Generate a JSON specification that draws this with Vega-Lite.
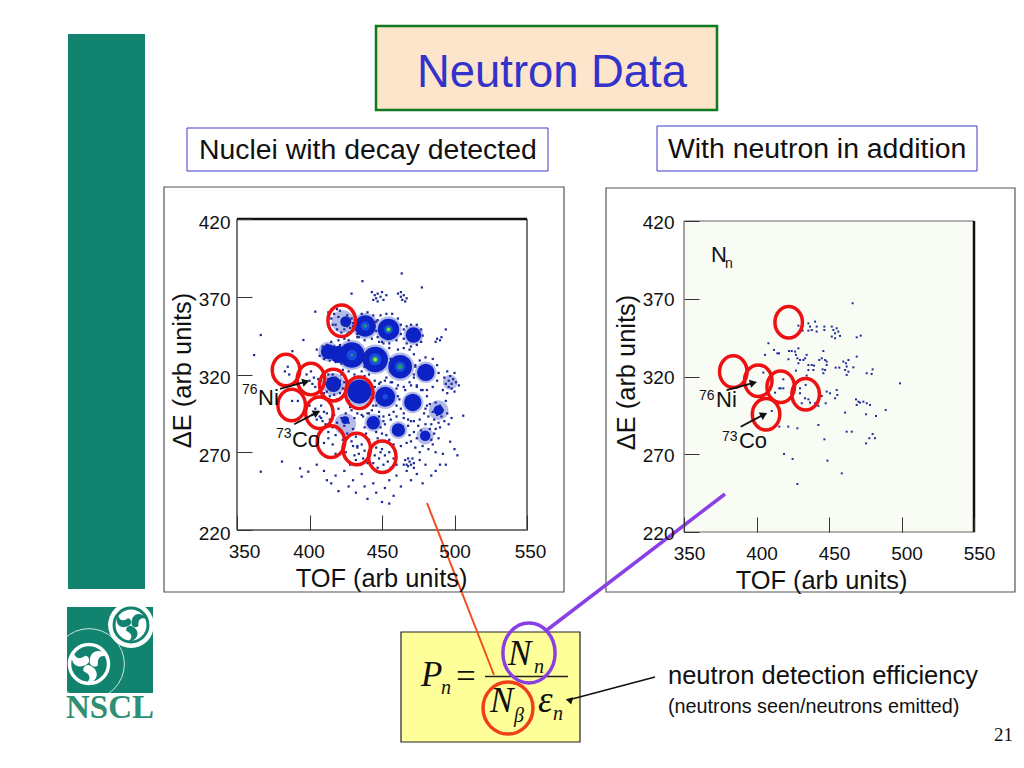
{"$schema":"https://vega.github.io/schema/vega-lite/v6.json","width":1024,"height":768,"padding":0,"autosize":{"type":"none"},"background":"white","config":{"view":{"stroke":null},"text":{"font":"Liberation Sans","align":"left","baseline":"alphabetic","color":"#111"},"axis":{"labelFont":"Liberation Sans","titleFont":"Liberation Sans","labelColor":"#111","titleColor":"#111","titleFontWeight":"normal","grid":false,"domain":false,"tickColor":"#333","labelFontSize":19,"titleFontSize":25.4}},
"datasets":{
"leftDots":[{"tof":443,"de":373},{"tof":445,"de":371},{"tof":446,"de":369},{"tof":447,"de":372},{"tof":449,"de":370},{"tof":450,"de":373},{"tof":451,"de":368},{"tof":453,"de":371},{"tof":447,"de":367},{"tof":444,"de":368},{"tof":461,"de":372},{"tof":463,"de":370},{"tof":464,"de":368},{"tof":466,"de":367},{"tof":463,"de":373},{"tof":465,"de":371},{"tof":467,"de":369},{"tof":463.6,"de":385},{"tof":436.5,"de":380},{"tof":477.5,"de":376},{"tof":429,"de":372},{"tof":404,"de":360.4},{"tof":366.4,"de":345.4},{"tof":361.8,"de":332.5},{"tof":388.2,"de":335},{"tof":395.8,"de":342.2},{"tof":494,"de":349},{"tof":488,"de":343},{"tof":490,"de":342},{"tof":491,"de":344},{"tof":487,"de":341},{"tof":381,"de":264},{"tof":366.4,"de":257.5},{"tof":393.5,"de":259.6},{"tof":399.2,"de":257.5},{"tof":394.6,"de":254.3},{"tof":506,"de":293.5},{"tof":497,"de":276.8},
{"tof":430,"de":353},{"tof":431,"de":349},{"tof":432,"de":356},{"tof":433,"de":346},{"tof":436,"de":359},{"tof":440,"de":360},{"tof":444,"de":358},{"tof":446,"de":354},{"tof":446,"de":348},{"tof":443,"de":343},{"tof":438,"de":342},{"tof":434,"de":344},
{"tof":447,"de":355},{"tof":449,"de":358},{"tof":453,"de":359},{"tof":457,"de":359},{"tof":461,"de":356},{"tof":463,"de":352},{"tof":463,"de":346},{"tof":460,"de":342},{"tof":455,"de":340},{"tof":450,"de":341},{"tof":447,"de":344},
{"tof":465,"de":349},{"tof":467,"de":351},{"tof":470,"de":352},{"tof":474,"de":352},{"tof":477,"de":349},{"tof":478,"de":345},{"tof":477,"de":341},{"tof":474,"de":339},{"tof":470,"de":338},{"tof":467,"de":340},{"tof":465,"de":343},
{"tof":415,"de":356},{"tof":417,"de":359},{"tof":418,"de":352},{"tof":419,"de":349},{"tof":420,"de":357},{"tof":421,"de":361},{"tof":422,"de":347},{"tof":423,"de":352},{"tof":424,"de":349},{"tof":424,"de":356},{"tof":426,"de":351},{"tof":426,"de":358},{"tof":427,"de":347},{"tof":428,"de":354},{"tof":428,"de":350},{"tof":429,"de":356},{"tof":430,"de":351},{"tof":416,"de":352},{"tof":413,"de":360},{"tof":419,"de":362},{"tof":426,"de":346},
{"tof":405,"de":336},{"tof":407,"de":332},{"tof":409,"de":338},{"tof":410,"de":330},{"tof":411,"de":334},{"tof":412,"de":339},{"tof":414,"de":329},{"tof":415,"de":341},{"tof":417,"de":338},{"tof":418,"de":328},{"tof":420,"de":342},{"tof":422,"de":327},{"tof":424,"de":343},{"tof":427,"de":342},{"tof":433,"de":344},
{"tof":421,"de":339},{"tof":423,"de":323},{"tof":427,"de":322},{"tof":431,"de":320},{"tof":436,"de":322},{"tof":438,"de":325},{"tof":439,"de":331},{"tof":441,"de":320},{"tof":445,"de":316},{"tof":449,"de":315},{"tof":453,"de":318},{"tof":456,"de":322},{"tof":456,"de":330},{"tof":455,"de":337},{"tof":451,"de":340},{"tof":448,"de":341},
{"tof":457,"de":315},{"tof":461,"de":313},{"tof":465,"de":312},{"tof":469,"de":315},{"tof":472,"de":320},{"tof":473,"de":326},{"tof":472,"de":333},{"tof":469,"de":336},{"tof":465,"de":337},{"tof":461,"de":336},
{"tof":472,"de":318},{"tof":474,"de":313},{"tof":477,"de":310},{"tof":481,"de":310},{"tof":485,"de":312},{"tof":488,"de":316},{"tof":489,"de":321},{"tof":488,"de":326},{"tof":485,"de":330},{"tof":480,"de":331},{"tof":476,"de":329},{"tof":473,"de":325},
{"tof":492,"de":310},{"tof":493,"de":318},{"tof":494,"de":314},{"tof":495,"de":322},{"tof":495,"de":308},{"tof":496,"de":316},{"tof":496,"de":312},{"tof":497,"de":319},{"tof":498,"de":311},{"tof":498,"de":314},{"tof":499,"de":317},{"tof":500,"de":309},{"tof":500,"de":321},{"tof":501,"de":315},{"tof":503,"de":313},
{"tof":408,"de":316},{"tof":409,"de":311},{"tof":410,"de":319},{"tof":410,"de":308},{"tof":411,"de":314},{"tof":412,"de":309},{"tof":413,"de":317},{"tof":413,"de":320},{"tof":414,"de":306},{"tof":415,"de":312},{"tof":416,"de":320},{"tof":417,"de":307},{"tof":418,"de":318},{"tof":418,"de":310},{"tof":419,"de":304},{"tof":420,"de":312},{"tof":421,"de":316},{"tof":421,"de":308},{"tof":422,"de":320},{"tof":423,"de":311},{"tof":424,"de":315},{"tof":424,"de":306},
{"tof":426,"de":316},{"tof":427,"de":303},{"tof":428,"de":310},{"tof":429,"de":297},{"tof":431,"de":318},{"tof":433,"de":295},{"tof":436,"de":294},{"tof":438,"de":319},{"tof":441,"de":316},{"tof":442,"de":312},{"tof":444,"de":305},{"tof":444,"de":300},{"tof":441,"de":295},
{"tof":444,"de":308},{"tof":445,"de":312},{"tof":446,"de":300},{"tof":448,"de":296},{"tof":451,"de":293},{"tof":455,"de":294},{"tof":458,"de":296},{"tof":460,"de":300},{"tof":461,"de":306},{"tof":460,"de":311},{"tof":456,"de":315},{"tof":452,"de":316},{"tof":448,"de":314},
{"tof":462,"de":304},{"tof":463,"de":298},{"tof":465,"de":295},{"tof":468,"de":291},{"tof":472,"de":290},{"tof":476,"de":291},{"tof":479,"de":295},{"tof":481,"de":300},{"tof":481,"de":306},{"tof":478,"de":310},{"tof":474,"de":312},{"tof":470,"de":313},{"tof":466,"de":310},
{"tof":480,"de":298},{"tof":482,"de":293},{"tof":483,"de":301},{"tof":484,"de":288},{"tof":485,"de":296},{"tof":486,"de":291},{"tof":487,"de":302},{"tof":487,"de":285},{"tof":488,"de":294},{"tof":489,"de":289},{"tof":490,"de":300},{"tof":490,"de":286},{"tof":491,"de":293},{"tof":492,"de":297},{"tof":493,"de":290},{"tof":494,"de":303},{"tof":495,"de":295},{"tof":496,"de":288},{"tof":498,"de":292},
{"tof":408,"de":292},{"tof":409,"de":285},{"tof":411,"de":288},{"tof":412,"de":295},{"tof":413,"de":283},{"tof":414,"de":291},{"tof":416,"de":286},{"tof":417,"de":294},{"tof":418,"de":281},{"tof":419,"de":289},{"tof":420,"de":298},{"tof":421,"de":284},{"tof":422,"de":292},{"tof":423,"de":278},{"tof":424,"de":287},{"tof":425,"de":295},{"tof":426,"de":282},{"tof":427,"de":289},{"tof":428,"de":299},{"tof":429,"de":277},{"tof":430,"de":285},{"tof":431,"de":292},{"tof":432,"de":280},{"tof":433,"de":274},
{"tof":437,"de":293},{"tof":438,"de":286},{"tof":439,"de":282},{"tof":440,"de":295},{"tof":441,"de":278},{"tof":443,"de":297},{"tof":445,"de":276},{"tof":446,"de":283},{"tof":447,"de":279},{"tof":448,"de":293},{"tof":449,"de":286},{"tof":450,"de":282},{"tof":451,"de":290},
{"tof":452,"de":288},{"tof":453,"de":281},{"tof":455,"de":278},{"tof":456,"de":291},{"tof":458,"de":275},{"tof":460,"de":293},{"tof":463,"de":274},{"tof":465,"de":292},{"tof":467,"de":276},{"tof":468,"de":287},{"tof":469,"de":281},{"tof":470,"de":290},
{"tof":470,"de":277},{"tof":472,"de":283},{"tof":473,"de":273},{"tof":474,"de":279},{"tof":475,"de":287},{"tof":476,"de":270},{"tof":477,"de":284},{"tof":478,"de":274},{"tof":480,"de":288},{"tof":482,"de":272},{"tof":483,"de":285},{"tof":484,"de":278},{"tof":485,"de":275},{"tof":486,"de":282},{"tof":487,"de":270},{"tof":489,"de":279},{"tof":492,"de":269},
{"tof":500,"de":272},{"tof":502,"de":268},{"tof":494,"de":262},{"tof":490,"de":262},
{"tof":425,"de":270},{"tof":428,"de":262},{"tof":430,"de":274},{"tof":431,"de":268},{"tof":432,"de":265},{"tof":433,"de":273},{"tof":434,"de":269},{"tof":436,"de":275},{"tof":437,"de":266},{"tof":438,"de":271},{"tof":440,"de":263},
{"tof":444,"de":263},{"tof":445,"de":268},{"tof":446,"de":273},{"tof":447,"de":260},{"tof":448,"de":266},{"tof":449,"de":270},{"tof":450,"de":272},{"tof":451,"de":262},{"tof":452,"de":268},{"tof":453,"de":258},{"tof":454,"de":264},{"tof":455,"de":270},{"tof":456,"de":260},{"tof":458,"de":266},{"tof":460,"de":262},
{"tof":410,"de":276},{"tof":413,"de":279},{"tof":416,"de":275},{"tof":418,"de":269},
{"tof":400,"de":300},{"tof":402,"de":294},{"tof":404,"de":298},{"tof":405,"de":291},{"tof":406,"de":296},{"tof":407,"de":293},{"tof":408,"de":300},{"tof":409,"de":290},{"tof":410,"de":296},
{"tof":398,"de":320},{"tof":400,"de":316},{"tof":401,"de":322},{"tof":402,"de":314},{"tof":403,"de":318},{"tof":404,"de":312},{"tof":406,"de":317},{"tof":383,"de":322},{"tof":385,"de":325},{"tof":386,"de":320},{"tof":388,"de":303},{"tof":392,"de":303},
{"tof":405,"de":262},{"tof":410,"de":258},{"tof":412,"de":252},{"tof":415,"de":250},{"tof":418,"de":255},{"tof":420,"de":245},{"tof":424,"de":258},{"tof":427,"de":248},{"tof":430,"de":252},{"tof":432,"de":244},{"tof":436,"de":256},{"tof":438,"de":248},{"tof":440,"de":240},{"tof":444,"de":250},{"tof":446,"de":244},{"tof":450,"de":238},{"tof":452,"de":247},{"tof":455,"de":252},{"tof":458,"de":242},{"tof":460,"de":255},{"tof":463,"de":248},{"tof":465,"de":262},{"tof":467,"de":258},{"tof":468,"de":266},{"tof":470,"de":252},{"tof":472,"de":260},{"tof":474,"de":256},{"tof":476,"de":265},{"tof":478,"de":250},{"tof":480,"de":262},{"tof":484,"de":255},{"tof":487,"de":258},{"tof":455,"de":237},
{"tof":466,"de":265},{"tof":467,"de":262},{"tof":469,"de":264},{"tof":470,"de":262},{"tof":471,"de":266},{"tof":472,"de":263},{"tof":468,"de":261}],
"rightDots":[{"tof":435.8,"de":354.2},{"tof":436.9,"de":352.1},{"tof":438.1,"de":349.9},{"tof":440.4,"de":355.3},{"tof":441.5,"de":352.1},{"tof":441.5,"de":348.9},{"tof":435.8,"de":349.5},{"tof":431.8,"de":349.5},{"tof":428.9,"de":352.7},{"tof":446.8,"de":352.1},{"tof":446.8,"de":349.9},{"tof":451.9,"de":352.1},{"tof":453,"de":349.9},{"tof":454.2,"de":347.8},{"tof":455.3,"de":351},{"tof":456.4,"de":348.9},{"tof":451.9,"de":345.7},{"tof":454.2,"de":344.6},{"tof":457.6,"de":346.1},{"tof":469.1,"de":345.2},{"tof":471.9,"de":346.3},{"tof":466.3,"de":367.1},{"tof":408.2,"de":341.4},{"tof":412.1,"de":337.1},{"tof":414.4,"de":334.9},{"tof":415.5,"de":334.9},{"tof":405.9,"de":333.9},{"tof":422.4,"de":336.4},{"tof":424.3,"de":336.4},{"tof":426.6,"de":336},{"tof":428.9,"de":338.1},{"tof":427.2,"de":333.9},{"tof":428.2,"de":331.7},{"tof":430,"de":330.6},{"tof":432.3,"de":330.6},{"tof":433.5,"de":331.7},{"tof":434.6,"de":333.9},{"tof":428.9,"de":328.5},{"tof":422,"de":331.1},{"tof":435.8,"de":327.4},{"tof":438.1,"de":327.4},{"tof":439.7,"de":327},{"tof":439.2,"de":324.2},{"tof":446.1,"de":336.4},{"tof":445,"de":331.7},{"tof":447.3,"de":330.6},{"tof":448.4,"de":329.6},{"tof":443.3,"de":330.6},{"tof":445.6,"de":324.6},{"tof":447.3,"de":324.2},{"tof":446.1,"de":322.1},{"tof":448.4,"de":327.4},{"tof":435.8,"de":324.2},{"tof":454.6,"de":325.7},{"tof":457.1,"de":325.7},{"tof":459.9,"de":329.6},{"tof":461.7,"de":328.5},{"tof":463.4,"de":330.6},{"tof":469.1,"de":332.8},{"tof":462.2,"de":326.4},{"tof":461.1,"de":324.2},{"tof":463.4,"de":323.1},{"tof":462.2,"de":321},{"tof":466.8,"de":325.9},{"tof":476,"de":322.1},{"tof":479.4,"de":321.6},{"tof":480.1,"de":324.6},{"tof":499,"de":315.6},{"tof":427.2,"de":323.8},{"tof":404.7,"de":322.5},{"tof":418.5,"de":318.2},{"tof":416.7,"de":312.4},{"tof":418.5,"de":312.4},{"tof":415.7,"de":312.4},{"tof":412.8,"de":309.6},{"tof":430,"de":312.4},{"tof":430,"de":309.2},{"tof":433.9,"de":314.6},{"tof":434.6,"de":320.6},{"tof":433.5,"de":306},{"tof":435.8,"de":305.3},{"tof":431.2,"de":302.8},{"tof":436.9,"de":303.2},{"tof":440.4,"de":302.8},{"tof":442.7,"de":301.1},{"tof":445,"de":307.5},{"tof":448.4,"de":310.3},{"tof":450.7,"de":309.2},{"tof":454.2,"de":306},{"tof":455.3,"de":311.3},{"tof":455.8,"de":308.1},{"tof":447.7,"de":302.8},{"tof":468.6,"de":305.3},{"tof":470.3,"de":303.8},{"tof":471.4,"de":303.2},{"tof":473.7,"de":303.8},{"tof":476,"de":302.8},{"tof":478.3,"de":301.7},{"tof":469.1,"de":301.7},{"tof":461.1,"de":296.8},{"tof":475.5,"de":295.7},{"tof":482.4,"de":294.6},{"tof":489.1,"de":298.5},{"tof":410.5,"de":297.8},{"tof":415.7,"de":287.8},{"tof":421.9,"de":287.8},{"tof":428.2,"de":286.7},{"tof":442.7,"de":288.8},{"tof":462.2,"de":284.5},{"tof":465.7,"de":284.5},{"tof":446.8,"de":279.6},{"tof":477.8,"de":280.3},{"tof":480.1,"de":283},{"tof":481.7,"de":280.3},{"tof":475.5,"de":277},{"tof":419,"de":270.2},{"tof":424.9,"de":267},{"tof":448.9,"de":265.9},{"tof":458.8,"de":257.7},{"tof":428.2,"de":250.9}],
"leftBlobs":[{"tof":438.4,"de":351.2,"count":680,"level":"h"},{"tof":454.5,"de":349,"count":680,"level":"h"},{"tof":471.7,"de":345.4,"count":400,"level":"h"},{"tof":423,"de":354,"count":520,"level":"h"},{"tof":429.2,"de":332.5,"count":900,"level":"h"},{"tof":413,"de":334.7,"count":400,"level":"h"},{"tof":445.3,"de":329.7,"count":900,"level":"h"},{"tof":462.5,"de":325,"count":800,"level":"h"},{"tof":480.2,"de":321.4,"count":460,"level":"h"},{"tof":416.5,"de":313.7,"count":520,"level":"h"},{"tof":434.4,"de":309,"count":820,"level":"h"},{"tof":452.2,"de":305.7,"count":600,"level":"h"},{"tof":471.2,"de":302,"count":460,"level":"h"},{"tof":489,"de":297,"count":400,"level":"h"},{"tof":497,"de":315,"count":220,"level":"h"},{"tof":424.6,"de":288,"count":480,"level":"h"},{"tof":444,"de":289,"count":320,"level":"h"},{"tof":461.3,"de":284.3,"count":320,"level":"h"},{"tof":479.8,"de":280.6,"count":300,"level":"h"},
{"tof":438.4,"de":351.2,"count":460,"level":"a"},{"tof":454.5,"de":349,"count":460,"level":"a"},{"tof":471.7,"de":345.4,"count":240,"level":"a"},{"tof":425,"de":354,"count":120,"level":"a"},{"tof":429.2,"de":332.5,"count":650,"level":"a"},{"tof":413,"de":334.7,"count":220,"level":"a"},{"tof":420,"de":333,"count":300,"level":"a"},{"tof":445.3,"de":329.7,"count":650,"level":"a"},{"tof":462.5,"de":325,"count":560,"level":"a"},{"tof":480.2,"de":321.4,"count":300,"level":"a"},{"tof":416.5,"de":313.7,"count":240,"level":"a"},{"tof":434.4,"de":309,"count":580,"level":"a"},{"tof":452.2,"de":305.7,"count":400,"level":"a"},{"tof":471.2,"de":302,"count":300,"level":"a"},{"tof":489,"de":297,"count":100,"level":"a"},{"tof":424.6,"de":290.7,"count":60,"level":"a"},{"tof":444,"de":289,"count":180,"level":"a"},{"tof":461.3,"de":284.3,"count":180,"level":"a"},{"tof":479.8,"de":280.6,"count":110,"level":"a"},
{"tof":438.4,"de":351.2,"count":80,"level":"b"},{"tof":454.5,"de":349,"count":80,"level":"b"},{"tof":429.2,"de":332.5,"count":110,"level":"b"},{"tof":445.3,"de":329.7,"count":150,"level":"b"},{"tof":462.5,"de":325,"count":110,"level":"b"},{"tof":452.2,"de":305.7,"count":28,"level":"b"},
{"tof":438.4,"de":351.2,"count":12,"level":"c"},{"tof":454.5,"de":349,"count":28,"level":"c"},{"tof":429.2,"de":332.5,"count":8,"level":"c"},{"tof":445.3,"de":329.7,"count":38,"level":"c"},{"tof":462.5,"de":325,"count":28,"level":"c"},
{"tof":454.5,"de":349,"count":7,"level":"d"},{"tof":445.3,"de":329.7,"count":12,"level":"d"}],
"leftRings":[{"tof":422.2,"de":354.6},{"tof":383.8,"de":322.9},{"tof":401,"de":317.1},{"tof":416.4,"de":313.2},{"tof":434.3,"de":308.3},{"tof":387.7,"de":300.4},{"tof":406.8,"de":295.4},{"tof":414.8,"de":276.8},{"tof":432.6,"de":272.1},{"tof":450.2,"de":267.1}],
"rightRings":[{"tof":422.2,"de":354.9},{"tof":384,"de":323.1},{"tof":401.2,"de":317.3},{"tof":416.7,"de":313.4},{"tof":433.9,"de":308.6},{"tof":406.6,"de":295.7}],
"grayFrame":[{"tof":350,"de":220,"tof2":550,"de2":220},{"tof":350,"de":220,"tof2":350,"de2":420},{"tof":550,"de":220,"tof2":550,"de2":420}]
},
"resolve":{"scale":{"x":"independent","y":"independent"},"axis":{"x":"independent","y":"independent"}},
"layer":[
{"encoding":{"x":{"field":"u","type":"quantitative","scale":{"domain":[0,1024],"range":[0,1024],"nice":false,"zero":false},"axis":null},"y":{"field":"v","type":"quantitative","scale":{"domain":[0,768],"range":[0,768],"nice":false,"zero":false},"axis":null}},
"layer":[
{"data":{"values":[{"item":"sidebar","u":68,"v":34,"u2":145,"v2":589},{"item":"logo","u":67,"v":607,"u2":153,"v2":693}]},"mark":{"type":"rect","color":"#12836f"},"encoding":{"x2":{"field":"u2"},"y2":{"field":"v2"}}},
{"data":{"values":[{"item":"left panel","u":164,"v":187,"u2":564,"v2":592},{"item":"right panel","u":606,"v":188,"u2":1015,"v2":592}]},"mark":{"type":"rect","fill":"white","stroke":"#555","strokeWidth":1.2},"encoding":{"x2":{"field":"u2"},"y2":{"field":"v2"}}},
{"data":{"values":[{"item":"right plot","u":684,"v":221,"u2":974,"v2":532}]},"mark":{"type":"rect","fill":"#f9fbf5"},"encoding":{"x2":{"field":"u2"},"y2":{"field":"v2"}}},
{"data":{"values":[{"item":"title box","u":376,"v":26,"u2":717,"v2":110}]},"mark":{"type":"rect","fill":"#fde5cb","stroke":"#0f7a1e","strokeWidth":2.5},"encoding":{"x2":{"field":"u2"},"y2":{"field":"v2"}}},
{"data":{"values":[{"item":"left caption","u":187,"v":128,"u2":548,"v2":171},{"item":"right caption","u":657,"v":126,"u2":977,"v2":171}]},"mark":{"type":"rect","fill":"white","stroke":"#3a3acc","strokeWidth":1},"encoding":{"x2":{"field":"u2"},"y2":{"field":"v2"}}},
{"data":{"values":[{"item":"formula box","u":401,"v":632,"u2":580,"v2":742}]},"mark":{"type":"rect","fill":"#ffff99","stroke":"#222","strokeWidth":1.2},"encoding":{"x2":{"field":"u2"},"y2":{"field":"v2"}}},
{"data":{"values":[{"u":89,"v":664}]},"mark":{"type":"point","shape":"circle","filled":false,"stroke":"white","strokeWidth":1,"size":5000,"opacity":0.8}},
{"data":{"values":[{"u":89,"v":664}]},"mark":{"type":"point","shape":"circle","filled":false,"stroke":"white","strokeWidth":3.5,"size":1520,"opacity":1}},
{"data":{"values":[{"u":89,"v":664,"turn":0},{"u":89,"v":664,"turn":120},{"u":89,"v":664,"turn":240}]},"mark":{"type":"point","filled":true,"fill":"white","strokeWidth":0,"opacity":1,"size":1500,"shape":"M0.05 -0.02C-0.05 -0.65 0.55 -0.95 1 -0.35C0.65 -0.5 0.42 -0.38 0.46 0.05C0.38 0.2 0.12 0.15 0.05 -0.02Z"},"encoding":{"angle":{"field":"turn","type":"quantitative","scale":null}}},
{"data":{"values":[{"u":131,"v":625}]},"mark":{"type":"point","shape":"circle","filled":true,"fill":"white","strokeWidth":0,"size":2100,"opacity":1}},
{"data":{"values":[{"u":131,"v":625}]},"mark":{"type":"point","shape":"circle","filled":false,"stroke":"#12836f","strokeWidth":3,"size":1150,"opacity":1}},
{"data":{"values":[{"u":131,"v":625,"turn":0},{"u":131,"v":625,"turn":120},{"u":131,"v":625,"turn":240}]},"mark":{"type":"point","filled":true,"fill":"#12836f","strokeWidth":0,"opacity":1,"size":1050,"shape":"M0.05 -0.02C-0.05 -0.65 0.55 -0.95 1 -0.35C0.65 -0.5 0.42 -0.38 0.46 0.05C0.38 0.2 0.12 0.15 0.05 -0.02Z"},"encoding":{"angle":{"field":"turn","type":"quantitative","scale":null}}}
]},
{"data":{"name":"grayFrame"},"mark":{"type":"rule","color":"#777","strokeWidth":2},"encoding":{"x":{"field":"tof","type":"quantitative","scale":{"domain":[350,550],"range":[237,527],"nice":false,"zero":false},"axis":{"zindex":1,"orient":"bottom","offset":-238,"values":[350,400,450,500,550],"tickSize":-15,"labelPadding":27,"labelOffset":{"expr":"datum.value==350?7:datum.value==550?3:datum.value==400?-1:0"},"title":"TOF (arb units)","titlePadding":5,"titleX":381,"labelFlush":false,"labelOverlap":false}},"y":{"field":"de","type":"quantitative","scale":{"domain":[220,420],"range":[530,219],"nice":false,"zero":false},"axis":{"zindex":1,"orient":"left","offset":-237,"values":[220,270,320,370,420],"tickSize":-15,"labelPadding":22,"labelOffset":3,"title":"ΔE (arb units)","titlePadding":3,"titleY":370,"labelFlush":false,"labelOverlap":false}},"x2":{"field":"tof2"},"y2":{"field":"de2"}}},
{"data":{"values":[{"tof":350,"de":220,"tof2":550,"de2":220},{"tof":350,"de":220,"tof2":350,"de2":420},{"tof":350,"de":420,"tof2":550,"de2":420}]},"mark":{"type":"rule","color":"#666","strokeWidth":1.2},"encoding":{"x":{"field":"tof","type":"quantitative","scale":{"domain":[350,550],"range":[684,974],"nice":false,"zero":false},"axis":{"zindex":1,"orient":"bottom","offset":-236,"values":[350,400,450,500,550],"tickSize":-15,"labelPadding":27,"labelOffset":5,"title":"TOF (arb units)","titlePadding":5,"titleX":821,"labelFlush":false,"labelOverlap":false}},"y":{"field":"de","type":"quantitative","scale":{"domain":[220,420],"range":[532,221],"nice":false,"zero":false},"axis":{"zindex":1,"orient":"left","offset":-684,"values":[220,270,320,370,420],"tickSize":-15,"labelPadding":25,"labelOffset":1,"title":"ΔE (arb units)","titlePadding":3,"titleY":372,"labelFlush":false,"labelOverlap":false}},"x2":{"field":"tof2"},"y2":{"field":"de2"}}},
{"encoding":{"x":{"field":"tof","type":"quantitative","scale":{"domain":[350,550],"range":[237,527],"nice":false,"zero":false},"axis":null},"y":{"field":"de","type":"quantitative","scale":{"domain":[220,420],"range":[530,219],"nice":false,"zero":false},"axis":null}},
"layer":[
{"data":{"values":[{"tof":350,"de":420,"tof2":550,"de2":420}]},"mark":{"type":"rule","color":"#111","strokeWidth":2.5},"encoding":{"x2":{"field":"tof2"},"y2":{"field":"de2"}}},
{"data":{"name":"leftBlobs"},"mark":{"type":"point","filled":true,"opacity":1,"strokeWidth":0},"encoding":{"size":{"field":"count","type":"quantitative","scale":{"domain":[0,1000],"range":[0,1000]},"legend":null},"color":{"field":"level","type":"nominal","scale":{"domain":["h","a","b","c","d"],"range":["#b4bbe8","#0c22c4","#1a4be0","#1f9a78","#a6e83c"]},"legend":null}}},
{"data":{"name":"leftDots"},"mark":{"type":"square","size":5,"color":"#1a2a96","opacity":1}},
{"data":{"name":"leftRings"},"mark":{"type":"point","filled":false,"stroke":"#ee1111","strokeWidth":3.5,"size":1000,"opacity":1,"shape":"M-0.87 0A0.87 1 0 1 1 0.87 0A0.87 1 0 1 1 -0.87 0Z"}},
{"data":{"values":[{"tof":379.7,"de":310.7,"tof2":397,"de2":315.3},{"tof":389.5,"de":288,"tof2":404.5,"de2":295.3}]},"mark":{"type":"rule","color":"#111","strokeWidth":1.8},"encoding":{"x2":{"field":"tof2"},"y2":{"field":"de2"}}},
{"data":{"values":[{"tof":397.5,"de":315.4,"heading":74},{"tof":405,"de":295.5,"heading":62}]},"mark":{"type":"point","shape":"triangle-up","filled":true,"fill":"#111","strokeWidth":0,"size":70,"opacity":1},"encoding":{"angle":{"field":"heading","type":"quantitative","scale":null}}},
{"data":{"values":[{"label":"76","tof":353.4,"de":307.5},{"label":"73","tof":376.9,"de":279.2}]},"mark":{"type":"text","fontSize":14},"encoding":{"text":{"field":"label"}}},
{"data":{"values":[{"label":"Ni","tof":364.5,"de":300.4},{"label":"Co","tof":387.9,"de":273.4}]},"mark":{"type":"text","fontSize":22},"encoding":{"text":{"field":"label"}}}
]},
{"encoding":{"x":{"field":"tof","type":"quantitative","scale":{"domain":[350,550],"range":[684,974],"nice":false,"zero":false},"axis":null},"y":{"field":"de","type":"quantitative","scale":{"domain":[220,420],"range":[532,221],"nice":false,"zero":false},"axis":null}},
"layer":[
{"data":{"values":[{"tof":550,"de":220,"tof2":550,"de2":420}]},"mark":{"type":"rule","color":"#111","strokeWidth":2.5},"encoding":{"x2":{"field":"tof2"},"y2":{"field":"de2"}}},
{"data":{"name":"rightDots"},"mark":{"type":"square","size":4,"color":"#1f2f96","opacity":1}},
{"data":{"name":"rightRings"},"mark":{"type":"point","filled":false,"stroke":"#ee1111","strokeWidth":3.5,"size":1000,"opacity":1,"shape":"M-0.87 0A0.87 1 0 1 1 0.87 0A0.87 1 0 1 1 -0.87 0Z"}},
{"data":{"values":[{"tof":379.4,"de":311.3,"tof2":397.4,"de2":315.8},{"tof":389.1,"de":287.7,"tof2":404.6,"de2":295.3}]},"mark":{"type":"rule","color":"#111","strokeWidth":1.8},"encoding":{"x2":{"field":"tof2"},"y2":{"field":"de2"}}},
{"data":{"values":[{"tof":397.9,"de":315.9,"heading":75},{"tof":405.1,"de":295.5,"heading":62}]},"mark":{"type":"point","shape":"triangle-up","filled":true,"fill":"#111","strokeWidth":0,"size":70,"opacity":1},"encoding":{"angle":{"field":"heading","type":"quantitative","scale":null}}},
{"data":{"values":[{"label":"76","tof":360.3,"de":304.9},{"label":"73","tof":376.2,"de":278.5},{"label":"n","tof":378.3,"de":389.8}]},"mark":{"type":"text","fontSize":14},"encoding":{"text":{"field":"label"}}},
{"data":{"values":[{"label":"Ni","tof":372.1,"de":300.6},{"label":"Co","tof":387.9,"de":274},{"label":"N","tof":368.6,"de":393.6}]},"mark":{"type":"text","fontSize":22},"encoding":{"text":{"field":"label"}}}
]},
{"encoding":{"x":{"field":"u","type":"quantitative","scale":{"domain":[0,1024],"range":[0,1024],"nice":false,"zero":false},"axis":null},"y":{"field":"v","type":"quantitative","scale":{"domain":[0,768],"range":[0,768],"nice":false,"zero":false},"axis":null}},
"layer":[
{"data":{"values":[{"label":"Neutron Data","u":417,"v":87}]},"mark":{"type":"text","fontSize":45.4,"color":"#3333cc"},"encoding":{"text":{"field":"label"}}},
{"data":{"values":[{"label":"Nuclei with decay detected","u":199,"v":159},{"label":"With neutron in addition","u":668,"v":158}]},"mark":{"type":"text","fontSize":28.4},"encoding":{"text":{"field":"label"}}},
{"data":{"values":[{"label":"neutron detection efficiency","u":668,"v":684}]},"mark":{"type":"text","fontSize":25.5},"encoding":{"text":{"field":"label"}}},
{"data":{"values":[{"label":"(neutrons seen/neutrons emitted)","u":668,"v":713}]},"mark":{"type":"text","fontSize":19.8},"encoding":{"text":{"field":"label"}}},
{"data":{"values":[{"label":"21","u":994,"v":741}]},"mark":{"type":"text","fontSize":19,"font":"Liberation Serif"},"encoding":{"text":{"field":"label"}}},
{"data":{"values":[{"label":"NSCL","u":66,"v":718}]},"mark":{"type":"text","fontSize":33,"font":"Liberation Serif","color":"#2f8f72","fontWeight":"bold"},"encoding":{"text":{"field":"label"}}},
{"data":{"values":[{"label":"P","u":421,"v":686},{"label":"N","u":508,"v":665},{"label":"N","u":490,"v":712}]},"mark":{"type":"text","fontSize":35,"font":"Liberation Serif","fontStyle":"italic"},"encoding":{"text":{"field":"label"}}},
{"data":{"values":[{"label":"=","u":456,"v":688}]},"mark":{"type":"text","fontSize":35,"font":"Liberation Serif"},"encoding":{"text":{"field":"label"}}},
{"data":{"values":[{"label":"ε","u":538,"v":712}]},"mark":{"type":"text","fontSize":37,"font":"Liberation Serif","fontStyle":"italic"},"encoding":{"text":{"field":"label"}}},
{"data":{"values":[{"label":"n","u":441,"v":694},{"label":"n","u":534,"v":673},{"label":"β","u":514,"v":722},{"label":"n","u":553,"v":720}]},"mark":{"type":"text","fontSize":20,"font":"Liberation Serif","fontStyle":"italic"},"encoding":{"text":{"field":"label"}}},
{"data":{"values":[{"u":485,"v":676.5,"u2":568,"v2":676.5}]},"mark":{"type":"rule","color":"#222","strokeWidth":1.5},"encoding":{"x2":{"field":"u2"},"y2":{"field":"v2"}}},
{"data":{"values":[{"u":427,"v":503,"u2":494,"v2":675}]},"mark":{"type":"rule","color":"#f0501e","strokeWidth":2},"encoding":{"x2":{"field":"u2"},"y2":{"field":"v2"}}},
{"data":{"values":[{"u":725,"v":494,"u2":547,"v2":630}]},"mark":{"type":"rule","color":"#8a3fe6","strokeWidth":3.5},"encoding":{"x2":{"field":"u2"},"y2":{"field":"v2"}}},
{"data":{"values":[{"u":655,"v":677,"u2":572,"v2":699}]},"mark":{"type":"rule","color":"#111","strokeWidth":1.5},"encoding":{"x2":{"field":"u2"},"y2":{"field":"v2"}}},
{"data":{"values":[{"u":569,"v":700,"heading":285}]},"mark":{"type":"point","shape":"triangle-up","filled":true,"fill":"#111","strokeWidth":0,"size":60,"opacity":1},"encoding":{"angle":{"field":"heading","type":"quantitative","scale":null}}},
{"data":{"values":[{"u":529,"v":653}]},"mark":{"type":"point","filled":false,"stroke":"#8a3fe6","strokeWidth":3.5,"size":3600,"opacity":1,"shape":"M-0.87 0A0.87 1 0 1 1 0.87 0A0.87 1 0 1 1 -0.87 0Z"}},
{"data":{"values":[{"u":508,"v":708}]},"mark":{"type":"point","filled":false,"stroke":"#f0401a","strokeWidth":3.5,"size":2704,"opacity":1,"shape":"M-0.96 0A0.96 1 0 1 1 0.96 0A0.96 1 0 1 1 -0.96 0Z"}}
]}
]}
